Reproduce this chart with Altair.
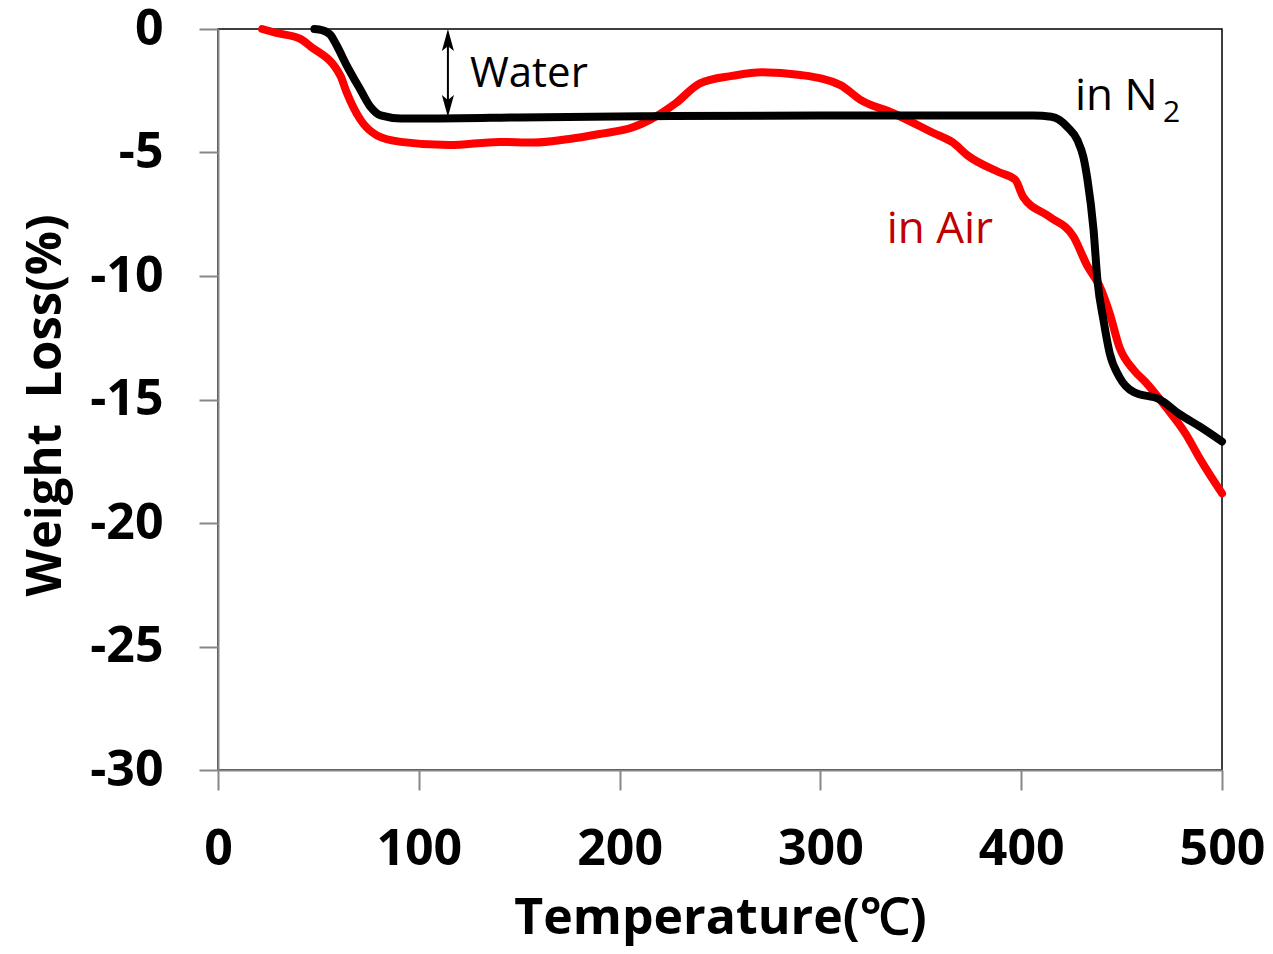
import altair as alt
import pandas as pd

# In Air (red)
air_T = [22, 29, 41, 46, 61, 64, 71, 79, 91, 115, 140, 157, 175, 190, 207, 215, 228, 240,
         256, 271, 290, 310, 320, 336, 356, 366, 373, 389, 397, 401, 414, 426, 433, 439,
         444, 449, 456, 462, 472, 482, 489, 500]
air_W = [0, -0.16, -0.4, -0.7, -1.9, -2.55, -3.68, -4.3, -4.57, -4.7, -4.57, -4.6, -4.45,
         -4.25, -3.97, -3.68, -3.0, -2.2, -1.9, -1.75, -1.86, -2.27, -2.87, -3.4, -4.2,
         -4.6, -5.1, -5.8, -6.1, -6.8, -7.6, -8.4, -9.6, -10.4, -11.5, -12.9, -13.8,
         -14.3, -15.3, -16.4, -17.4, -18.8]

# In N2 (black)
n2_T = [48, 52, 56, 59, 64, 71, 76, 81, 91, 110, 150, 215, 300, 406, 415, 419, 423, 428,
        431, 433, 436, 438, 441, 444, 449, 456, 469, 479, 489, 500]
n2_W = [0, -0.05, -0.24, -0.65, -1.46, -2.47, -3.16, -3.5, -3.62, -3.62, -3.58, -3.53,
        -3.5, -3.5, -3.55, -3.68, -3.97, -4.5, -5.2, -6.1, -8.1, -10.2, -11.8, -13.1,
        -14.1, -14.7, -15.0, -15.6, -16.1, -16.7]

x_ticks = [0, 100, 200, 300, 400, 500]
y_ticks = [0, -5, -10, -15, -20, -25, -30]

air = pd.DataFrame({"T": air_T, "W": air_W})
n2 = pd.DataFrame({"T": n2_T, "W": n2_W})

GRAY = "#868686"
FONT = "Open Sans"

xs = alt.Scale(domain=[0, 500], nice=False, zero=False)
ys = alt.Scale(domain=[-30, 0], nice=False, zero=False)

x_axis = alt.Axis(values=x_ticks, title="Temperature(℃)", grid=False,
                  labelFont=FONT, labelFontSize=50, labelFontWeight="bold", labelColor="black",
                  labelFlush=False, labelOverlap=False,
                  tickSize=20, tickColor=GRAY, tickWidth=2, domainColor=GRAY, domainWidth=2,
                  labelPadding=34, titleFont=FONT, titleFontSize=50, titleFontWeight="bold",
                  titleColor="black", titleY=163, titleBaseline="alphabetic", zindex=1)
y_axis = alt.Axis(values=y_ticks, title="Weight \u00a0Loss(%)", grid=False,
                  labelFont=FONT, labelFontSize=50, labelFontWeight="bold", labelColor="black",
                  labelExpr="'' + datum.value", labelFlush=False, labelOverlap=False,
                  tickSize=19, tickColor=GRAY, tickWidth=2, domainColor=GRAY, domainWidth=2,
                  labelPadding=36, titleFont=FONT, titleFontSize=49, titleFontWeight="bold",
                  titleColor="black", titleX=-158, titleY=376, titleBaseline="alphabetic",
                  titleAngle=270, zindex=1)

line_kw = dict(strokeWidth=8, strokeCap="round", strokeJoin="round", interpolate="monotone")

red = alt.Chart(air).mark_line(color="#FF0000", **line_kw).encode(
    x=alt.X("T:Q", scale=xs, axis=x_axis),
    y=alt.Y("W:Q", scale=ys, axis=y_axis),
)
black = alt.Chart(n2).mark_line(color="#000000", **line_kw).encode(
    x=alt.X("T:Q", scale=xs), y=alt.Y("W:Q", scale=ys),
)

arrow_T = 114.5
shaft = alt.Chart().mark_rule(color="black", strokeWidth=2).encode(
    x=alt.datum(arrow_T, scale=xs), y=alt.datum(-0.3, scale=ys), y2=alt.datum(-3.3))
head_up = alt.Chart().mark_point(shape="M0,-1 L0.55,1 L0,0.55 L-0.55,1 Z", filled=True,
                                 color="black", size=484, opacity=1).encode(
    x=alt.datum(arrow_T, scale=xs), y=alt.datum(-0.45, scale=ys))
head_dn = alt.Chart().mark_point(shape="M0,1 L0.55,-1 L0,-0.55 L-0.55,-1 Z", filled=True,
                                 color="black", size=484, opacity=1).encode(
    x=alt.datum(arrow_T, scale=xs), y=alt.datum(-3.12, scale=ys))

def label(text, T, W, size, color="black"):
    return alt.Chart().mark_text(text=text, font=FONT, fontSize=size, color=color,
                                 align="left", baseline="alphabetic").encode(
        x=alt.datum(T, scale=xs), y=alt.datum(W, scale=ys))

water = label("Water", 125.5, -2.35, 42)
inN = label("in N", 426.8, -3.28, 44)
sub2 = label("2", 470.6, -3.77, 30)
inAir = label("in Air", 333, -8.66, 44, "#C00000")

chart = alt.layer(red, black, shaft, head_up, head_dn, water, inN, sub2, inAir).properties(
    width=1004, height=741,
    autosize=alt.AutoSizeParams(type="none"),
    padding={"left": 218, "top": 29, "right": 51, "bottom": 184},
).configure(background="white").configure_view(stroke="black", strokeWidth=1.5)

chart.save("out.html", embed_options={"renderer": "svg", "actions": False})
